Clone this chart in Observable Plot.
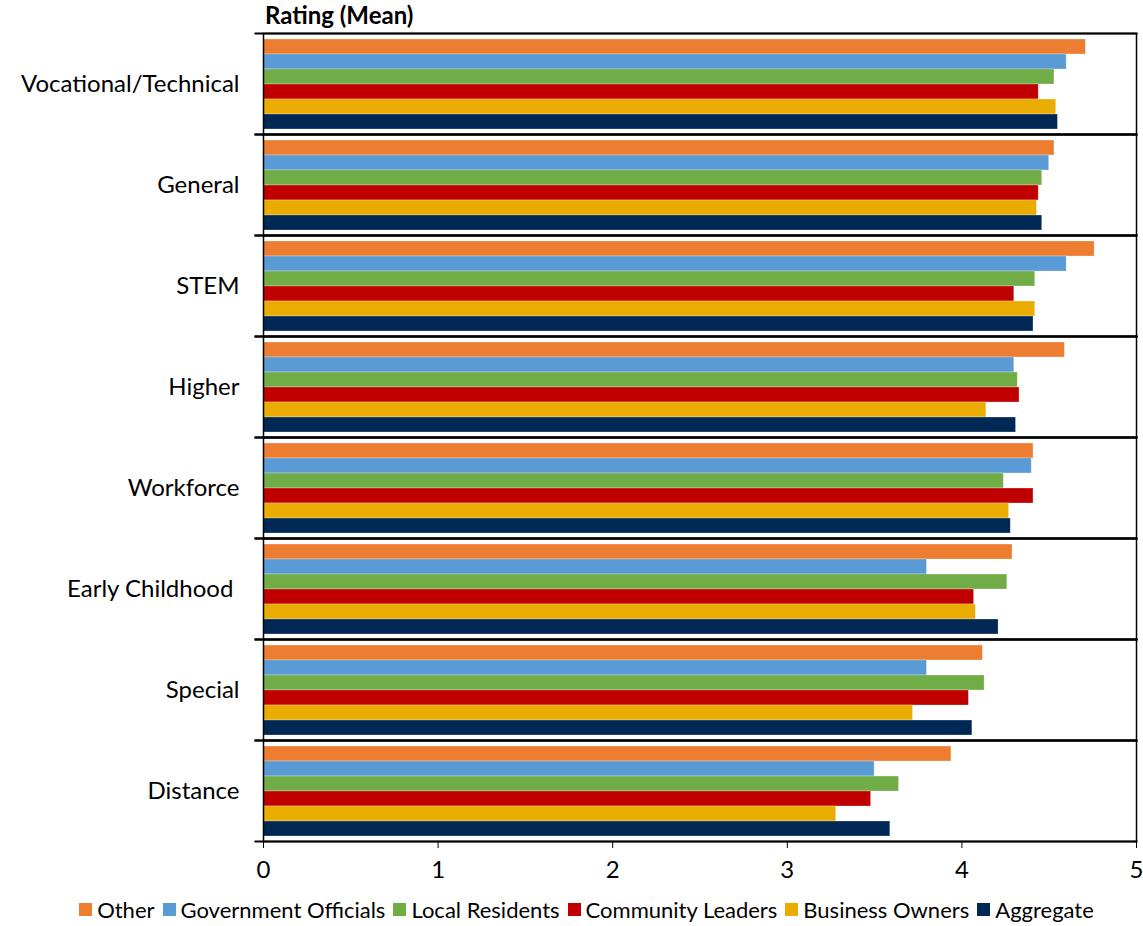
<!DOCTYPE html>
<html><head><meta charset="utf-8">
<script src="https://cdn.jsdelivr.net/npm/d3@7"></script>
<script src="https://cdn.jsdelivr.net/npm/@observablehq/plot@0.6"></script>
<style>
body{margin:0;background:#fff;font-family:Lato,"Liberation Sans",sans-serif;}
#wrap{position:relative;width:1143px;}
#title{position:absolute;left:265px;top:1px;font-size:24px;font-weight:bold;color:#000;line-height:28px;}
#legend{display:flex;justify-content:center;align-items:center;font-size:22px;color:#000;margin-top:1px;margin-left:30px;}
#legend .item{display:flex;align-items:center;margin:0 4px;}
#legend .sw{width:13px;height:13px;margin-right:5px;}
</style>
</head><body>
<div id="wrap">
<div id="title">Rating (Mean)</div>
<div id="chart"></div>
<div id="legend"></div>
</div>
<script>
const categories = ["Vocational/Technical","General","STEM","Higher","Workforce","Early Childhood","Special","Distance"];
const series = ["Other","Government Officials","Local Residents","Community Leaders","Business Owners","Aggregate"];
const colors = ["#ED7D31","#5B9BD5","#70AD47","#C00000","#EAAC00","#002855"];
const other = [4.71,4.53,4.76,4.59,4.41,4.29,4.12,3.94];
const governmentOfficials = [4.60,4.50,4.60,4.30,4.40,3.80,3.80,3.50];
const localResidents = [4.53,4.46,4.42,4.32,4.24,4.26,4.13,3.64];
const communityLeaders = [4.44,4.44,4.30,4.33,4.41,4.07,4.04,3.48];
const businessOwners = [4.54,4.43,4.42,4.14,4.27,4.08,3.72,3.28];
const aggregate = [4.55,4.46,4.41,4.31,4.28,4.21,4.06,3.59];
const xTicks = [0,1,2,3,4,5];

const seriesValues = [other, governmentOfficials, localResidents, communityLeaders, businessOwners, aggregate];
const data = [];
categories.forEach((c, i) => {
  series.forEach((s, j) => data.push({category: c, series: s, value: seriesValues[j][i]}));
});

const chart = Plot.plot({
  width: 1143,
  height: 895,
  marginLeft: 263,
  marginRight: 7,
  marginTop: 32,
  marginBottom: 53,
  style: {fontSize: "24px", fontFamily: "Lato, 'Liberation Sans', sans-serif", color: "#000", background: "#fff"},
  x: {domain: [0, 5], ticks: xTicks, tickSize: 7, tickPadding: 12, label: null, tickFormat: d => String(d)},
  y: {domain: series, axis: null, paddingInner: 0, paddingOuter: 0.33},
  fy: {domain: categories, padding: 0, label: null, tickSize: 0, tickPadding: 24,
       tickFormat: d => d === "Early Childhood" ? "Early Childhood\u00a0" : d},
  color: {domain: series, range: colors},
  marks: [
    Plot.barX(data, {x: "value", y: "series", fy: "category", fill: "series", stroke: "#ffffff", strokeOpacity: 0.35, strokeWidth: 0.8}),
    Plot.frame({stroke: "#000", strokeWidth: 1.5}),
    Plot.frame({anchor: "top", insetLeft: -8, stroke: "#000", strokeWidth: 2}),
    Plot.frame({anchor: "bottom", insetLeft: -8, stroke: "#000", strokeWidth: 2})
  ]
});
document.getElementById("chart").appendChild(chart);

const legend = document.getElementById("legend");
series.forEach((s, j) => {
  const it = document.createElement("div");
  it.className = "item";
  it.innerHTML = `<span class="sw" style="background:${colors[j]}"></span><span>${s}</span>`;
  legend.appendChild(it);
});
</script>
</body></html>
